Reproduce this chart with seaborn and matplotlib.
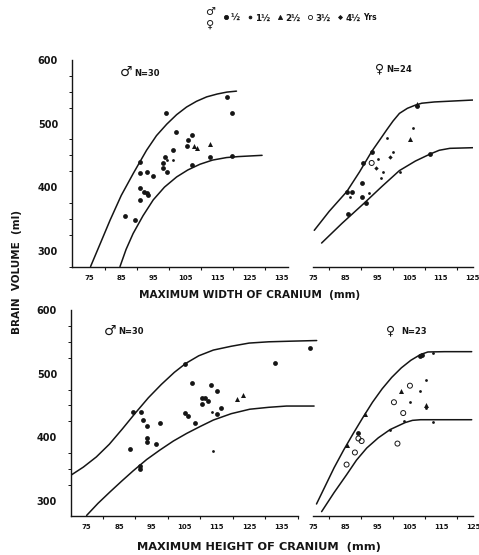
import matplotlib
matplotlib.use("Agg")
import matplotlib.pyplot as plt
import seaborn as sns
import pandas as pd
from matplotlib.lines import Line2D
from matplotlib.ticker import MultipleLocator, FixedLocator

sns.set_theme(style="white")
plt.rcParams['font.family'] = ['DejaVu Sans']
plt.rcParams['font.weight'] = 'bold'

W, H = 479, 555
INK = "#151515"

# ---------------- data ----------------
age_groups = ["½", "1½", "2½", "3½", "4½"]
x_ticks = [75, 85, 95, 105, 115, 125, 135]
x_ticks_right = [75, 85, 95, 105, 115, 125]
y_ticks = [300, 400, 500, 600]

# Top-left: males, maximum width of cranium
tl_upper_x = [75.4, 78.5, 81.5, 85.0, 88.8, 92.9, 96.0, 99.2, 102.3, 105.4, 108.5, 111.7, 115.0, 118.0, 121.0]
tl_upper_y = [275, 312, 348, 387, 422, 458, 481, 499, 514, 526, 535, 542, 546.5, 549.5, 551]
tl_lower_x = [84.6, 86.5, 88.7, 91.8, 95.0, 98.5, 102.3, 105.8, 109.6, 113.5, 117.9, 121.5, 125.2, 129.0]
tl_lower_y = [275, 302, 327, 355, 380, 400, 416, 427, 436, 442.5, 446.5, 448, 449, 450]
tl_pts_x = [86.2, 89.3, 90.9, 90.9, 90.9, 90.9, 92.0, 93.0, 93.0, 93.5, 95.0, 98.1, 98.1, 98.7, 99.2,
            99.2, 99.0, 101.2, 101.2, 102.1, 105.4, 106.0, 107.0, 107.0, 107.6, 108.6, 112.7, 112.7,
            117.9, 119.5, 119.5]
tl_pts_y = [354, 348, 440, 422, 398, 380, 393, 390, 424, 387, 417, 438, 430, 448, 424,
            443, 517, 458, 443, 487, 464, 474, 482, 435, 464, 461, 468, 447,
            542, 517, 449]
tl_pts_age = ["½", "½", "½", "½", "½", "½", "½", "½", "½", "½", "½", "½", "½", "½", "½",
              "1½", "½", "½", "1½", "½", "½", "½", "½", "½", "2½", "2½", "2½", "½",
              "½", "½", "½"]

# Top-right: females, maximum width of cranium
tr_upper_x = [75.3, 80.0, 85.5, 89.5, 93.3, 95.8, 98.0, 100.0, 102.0, 104.5, 107.0, 109.0, 113.0, 117.0, 125.0]
tr_upper_y = [332, 362, 393, 424, 456, 474, 490, 504, 516, 524, 529, 532, 534, 535, 537]
tr_lower_x = [77.6, 84.0, 91.0, 96.5, 102.0, 107.0, 111.6, 114.5, 117.8, 125.0]
tr_lower_y = [312, 343, 375, 401, 426, 441, 452, 458, 461, 462]
tr_pts_x = [86.0, 85.5, 87.2, 90.2, 90.2, 91.5, 90.7, 93.3, 93.3, 92.6, 95.4, 97.0, 96.2, 98.0,
            100.1, 102.2, 105.3, 106.2, 107.4, 107.4, 111.6, 86.5, 94.5, 99.0]
tr_pts_y = [358, 393, 393, 406, 384, 375, 438, 456, 438, 391, 444, 424, 414, 477,
            456, 424, 475, 493, 531, 527, 452, 384, 430, 447]
tr_pts_age = ["½", "½", "½", "½", "½", "½", "½", "½", "3½", "1½", "1½", "1½", "1½", "1½",
              "1½", "1½", "2½", "1½", "2½", "½", "½", "1½", "4½", "4½"]

# Bottom-left: males, maximum height of cranium
bl_upper_x = [70.4, 74.0, 78.0, 82.0, 86.0, 90.0, 94.0, 98.0, 102.0, 105.5, 109.5, 114.0, 119.5, 125.0, 131.0, 138.0, 145.8]
bl_upper_y = [341, 353, 369, 389, 413, 438, 462, 483, 502, 516, 528, 537, 543, 548, 550, 551, 552]
bl_lower_x = [75.0, 78.5, 82.2, 85.8, 89.3, 93.5, 97.6, 101.7, 105.8, 110.0, 114.0, 119.5, 125.2, 131.0, 136.5, 145.0]
bl_lower_y = [277, 296, 314, 331, 347, 365, 380, 394, 406, 417, 427, 437, 444, 447, 449, 449]
bl_pts_x = [88.3, 89.3, 91.6, 92.4, 93.5, 93.5, 93.5, 91.4, 91.4, 96.5, 97.6, 105.2, 105.2, 106.2,
            107.5, 108.3, 110.4, 110.4, 111.4, 112.4, 113.2, 113.5, 115.2, 115.2, 116.2, 114.0,
            121.2, 123.2, 133.0, 143.7]
bl_pts_y = [381, 440, 440, 427, 417, 398, 393, 354, 350, 389, 423, 515, 438, 433,
            486, 423, 461, 452, 461, 457, 482, 440, 473, 436, 446, 379,
            460, 466, 517, 541]
bl_pts_age = ["½", "½", "½", "½", "½", "½", "½", "½", "½", "½", "½", "½", "½", "½",
              "½", "½", "½", "½", "½", "½", "½", "1½", "½", "½", "½", "1½",
              "2½", "2½", "½", "½"]

# Bottom-right: females, maximum height of cranium
br_upper_x = [76.0, 78.8, 81.5, 84.5, 87.5, 90.5, 93.5, 96.5, 99.5, 102.5, 105.5, 108.5, 110.8, 116.0, 124.5]
br_upper_y = [295, 324, 352, 380, 406, 431, 455, 476, 494, 509, 521, 530, 534, 534.5, 534.5]
br_lower_x = [77.6, 81.5, 85.4, 88.5, 91.7, 95.3, 99.0, 103.7, 106.0, 108.5, 115.0, 124.5]
br_lower_y = [283, 313, 341, 364, 383, 399, 412, 423, 426.5, 427.5, 427.5, 427.5]
br_pts_x = [108.3, 109.0, 112.3, 102.3, 105.2, 110.2, 108.3, 100.2, 105.2, 110.2, 110.2, 103.1,
            103.3, 99.0, 112.3, 101.3, 91.2, 89.1, 89.1, 90.1, 85.4, 88.0, 85.4]
br_pts_y = [528, 530, 532, 472, 481, 490, 472, 455, 455, 451, 446, 438,
            425, 412, 424, 390, 437, 406, 398, 394, 388, 376, 357]
br_pts_age = ["½", "½", "1½", "2½", "3½", "1½", "1½", "3½", "1½", "2½", "1½", "3½",
              "1½", "1½", "1½", "3½", "2½", "½", "3½", "3½", "2½", "3½", "3½"]

# ---------------- styling ----------------
age_style = {
    "½":  dict(marker="o", s=12, color=INK, edgecolor=INK, linewidth=0),
    "1½": dict(marker="o", s=4, color=INK, edgecolor=INK, linewidth=0),
    "2½": dict(marker="^", s=13, color=INK, edgecolor=INK, linewidth=0),
    "3½": dict(marker="o", s=13, color=INK, facecolor="none", edgecolor=INK, linewidth=0.7),
    "4½": dict(marker="D", s=5, color=INK, edgecolor=INK, linewidth=0),
}

fig = plt.figure(figsize=(W / 100, H / 100), dpi=100)


def px_axes(l, r, t, b):
    ax = fig.add_axes([l / W, 1 - b / H, (r - l) / W, (b - t) / H])
    ax.patch.set_visible(False)
    return ax


panels = [
    dict(box=(72, 288, 60, 267), xlim=(69.6, 137.1), ylim=(274.3, 600), yaxis=True, xt=x_ticks,
         xb=(69.6, 137.1), curves=[(tl_upper_x, tl_upper_y), (tl_lower_x, tl_lower_y)],
         pts=(tl_pts_x, tl_pts_y, tl_pts_age)),
    dict(box=(313.3, 472.8, 60, 267), xlim=(75, 125), ylim=(274.3, 600), yaxis=False, xt=x_ticks_right,
         xb=(75, 125), curves=[(tr_upper_x, tr_upper_y), (tr_lower_x, tr_lower_y)],
         pts=(tr_pts_x, tr_pts_y, tr_pts_age)),
    dict(box=(71, 318, 310, 515.7), xlim=(70.2, 146.2), ylim=(276.6, 600), yaxis=True, xt=x_ticks,
         xb=(70.2, 140), curves=[(bl_upper_x, bl_upper_y), (bl_lower_x, bl_lower_y)],
         pts=(bl_pts_x, bl_pts_y, bl_pts_age)),
    dict(box=(313.3, 473.3, 310, 515.7), xlim=(75, 125), ylim=(276.6, 600), yaxis=False, xt=x_ticks_right,
         xb=(75, 125), curves=[(br_upper_x, br_upper_y), (br_lower_x, br_lower_y)],
         pts=(br_pts_x, br_pts_y, br_pts_age)),
]

for p in panels:
    ax = px_axes(*p["box"])
    for cx, cy in p["curves"]:
        sns.lineplot(x=cx, y=cy, ax=ax, color=INK, lw=1.1, sort=False, estimator=None)
    px_, py_, pa_ = p["pts"]
    df = pd.DataFrame({"x": px_, "y": py_, "age": pa_})
    for age in age_groups:
        sub = df[df["age"] == age]
        if len(sub):
            sns.scatterplot(data=sub, x="x", y="y", ax=ax, legend=False, zorder=3, **age_style[age])
    ax.set_xlim(*p["xlim"])
    ax.set_ylim(*p["ylim"])
    ax.set_xlabel("")
    ax.set_ylabel("")
    for s in ["top", "right"]:
        ax.spines[s].set_visible(False)
    ax.spines["bottom"].set_color(INK)
    ax.spines["bottom"].set_linewidth(1.0)
    ax.spines["bottom"].set_bounds(*p["xb"])
    ax.xaxis.set_major_locator(FixedLocator(p["xt"]))
    ax.set_xticklabels([str(v) for v in p["xt"]])
    minors = [v + 5 for v in p["xt"] if v + 5 <= p["xb"][1]]
    ax.xaxis.set_minor_locator(FixedLocator(minors))
    ax.tick_params(axis="x", which="major", direction="out", length=3.5, width=0.9, color=INK,
                   labelsize=5, pad=2.5, labelcolor=INK)
    ax.tick_params(axis="x", which="minor", direction="out", length=2.5, width=0.8, color=INK, bottom=True)
    if p["yaxis"]:
        ax.spines["left"].set_color(INK)
        ax.spines["left"].set_linewidth(1.0)
        ax.spines["left"].set_bounds(p["ylim"][0], 600)
        ax.yaxis.set_major_locator(FixedLocator(y_ticks))
        ax.yaxis.set_minor_locator(MultipleLocator(25))
        ax.tick_params(axis="y", which="major", direction="out", length=4, width=0.9, color=INK,
                       labelsize=7, pad=6, labelcolor=INK)
        ax.tick_params(axis="y", which="minor", direction="out", length=2, width=0.7, color=INK, left=True)
    else:
        ax.spines["left"].set_visible(False)
        ax.set_yticks([])
    ax.grid(False)


def ftext(x, y, s, **kw):
    fig.text(x / W, 1 - y / H, s, color=INK, **kw)


# panel annotations
ftext(126, 72, "♂", fontsize=10, ha="center", va="center", weight="normal")
ftext(134, 73, "N=30", fontsize=6, ha="left", va="center")
ftext(380, 69, "♀", fontsize=9, ha="center", va="center", weight="normal")
ftext(386, 69, "N=24", fontsize=6, ha="left", va="center")
ftext(110, 331, "♂", fontsize=10, ha="center", va="center", weight="normal")
ftext(118, 331, "N=30", fontsize=6, ha="left", va="center")
ftext(391, 331, "♀", fontsize=9, ha="center", va="center", weight="normal")
ftext(401, 331, "N=23", fontsize=6, ha="left", va="center")

# axis labels
ftext(250, 295, "MAXIMUM WIDTH OF CRANIUM  (mm)", fontsize=7.6, ha="center", va="center")
ftext(259, 547, "MAXIMUM HEIGHT OF CRANIUM  (mm)", fontsize=8.2, ha="center", va="center",
      weight="semibold")
ftext(17, 272, "BRAIN  VOLUME  (ml)", fontsize=7.5, ha="center", va="center", rotation=90)

# legend at top
ftext(210, 12, "♂", fontsize=8, ha="center", va="center", weight="normal")
ftext(210, 25, "♀", fontsize=8, ha="center", va="center", weight="normal")
handles = []
for age in age_groups:
    st = age_style[age]
    handles.append(Line2D([], [], linestyle="none", marker=st["marker"],
                          markersize=3 if st["s"] > 6 else 2,
                          markerfacecolor=st.get("facecolor", INK), markeredgecolor=INK,
                          markeredgewidth=0.6))
leg = fig.legend(handles, age_groups, loc="center left", bbox_to_anchor=(223 / W, 1 - 18 / H),
                 ncol=5, frameon=False, fontsize=6.3, handlelength=0.6, handletextpad=0.3,
                 columnspacing=0.8, borderaxespad=0, borderpad=0)
for t in leg.get_texts():
    t.set_color(INK)
ftext(363, 18, "Yrs", fontsize=5.5, ha="left", va="center")

fig.savefig("out.png", dpi=100, facecolor="white")
